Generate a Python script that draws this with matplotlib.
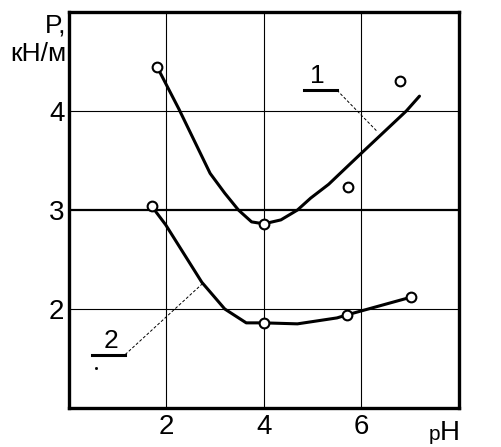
import matplotlib
matplotlib.use("Agg")
import matplotlib.pyplot as plt

plt.rcParams['font.family'] = ['Liberation Sans', 'DejaVu Sans']

# --- data ---
x_ticks = [2, 4, 6]
y_ticks = [2, 3, 4]

# curve 1 (smooth line) and its measured points
curve1_x = [1.82, 2.26, 2.90, 3.20, 3.48, 3.75, 4.00, 4.35, 4.69, 4.96, 5.33, 5.50, 5.97, 6.92, 7.19]
curve1_y = [4.44, 4.02, 3.37, 3.17, 3.00, 2.88, 2.86, 2.90, 3.00, 3.12, 3.26, 3.34, 3.56, 4.00, 4.15]
points1_x = [1.82, 4.00, 5.72, 6.80]
points1_y = [4.44, 2.86, 3.23, 4.30]

# curve 2 (smooth line) and its measured points
curve2_x = [1.70, 1.99, 2.73, 3.20, 3.64, 4.00, 4.69, 5.50, 5.70, 7.02]
curve2_y = [3.04, 2.85, 2.27, 2.00, 1.86, 1.86, 1.85, 1.91, 1.94, 2.12]
points2_x = [1.70, 4.00, 5.70, 7.02]
points2_y = [3.04, 1.86, 1.94, 2.12]

W, H = 501, 447
fig = plt.figure(figsize=(W / 100, H / 100), dpi=100)
ax = fig.add_axes([68.6 / W, 1 - 408 / H, (459 - 68.6) / W, (408 - 12) / H])
ax.set_xlim(0, 8)
ax.set_ylim(1, 5)

for s in ax.spines.values():
    s.set_linewidth(2.4)
    s.set_color('black')

# grid
for xv in x_ticks:
    ax.axvline(xv, color='black', lw=0.8, zorder=1)
for yv in y_ticks:
    ax.axhline(yv, color='black', lw=1.6 if yv == 3 else 0.8, zorder=1)

ax.set_xticks(x_ticks)
ax.set_yticks(y_ticks)
ax.set_xticklabels([str(v) for v in x_ticks])
ax.set_yticklabels([str(v) for v in y_ticks])
ax.tick_params(length=0, labelsize=20, pad=4)
ax.tick_params(axis='y', pad=3)

# curves
ax.plot(curve1_x, curve1_y, color='black', lw=2.2, zorder=3, solid_capstyle='round', solid_joinstyle='round')
ax.plot(curve2_x, curve2_y, color='black', lw=2.2, zorder=3, solid_capstyle='round', solid_joinstyle='round')
ax.plot(points1_x, points1_y, 'o', ms=7, mfc='white', mec='black', mew=1.5, zorder=4)
ax.plot(points2_x, points2_y, 'o', ms=7, mfc='white', mec='black', mew=1.5, zorder=4)

# labels 1 and 2 with underline and leader
ax.text(5.10, 4.23, '1', fontsize=19, ha='center', va='bottom')
ax.plot([4.83, 5.50], [4.21, 4.21], color='black', lw=2.2)
ax.plot([5.50, 6.33], [4.21, 3.79], color='black', lw=0.7, ls=(0, (3, 2)))

ax.text(0.87, 1.56, '2', fontsize=19, ha='center', va='bottom')
ax.plot([0.48, 1.16], [1.54, 1.54], color='black', lw=2.2)
ax.plot([1.16, 2.73], [1.54, 2.25], color='black', lw=0.7, ls=(0, (3, 2)))
ax.plot([0.555], [1.40], 's', ms=1, color='black')

# axis titles
fig.text(66 / W, 1 - 33 / H, 'P,', fontsize=19, ha='right', va='baseline')
fig.text(67 / W, 1 - 61 / H, 'кН/м', fontsize=19, ha='right', va='baseline')
fig.text(440 / W, 1 - 440 / H, 'p', fontsize=15, ha='right', va='baseline')
fig.text(440 / W, 1 - 440 / H, 'H', fontsize=20, ha='left', va='baseline')

fig.savefig('out.png', dpi=100, facecolor='white')
